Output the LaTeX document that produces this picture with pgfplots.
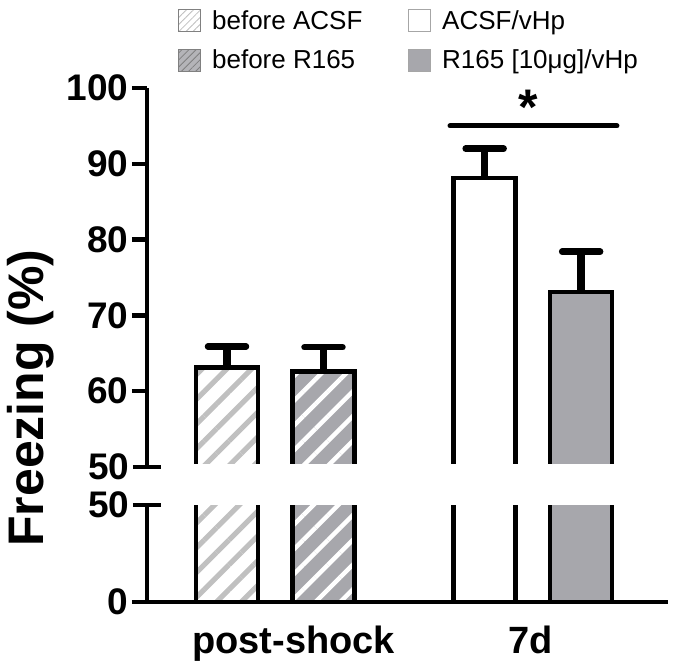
\documentclass[border=0pt]{standalone}
\usepackage{fontspec}
\setmainfont{Liberation Sans}
\usepackage{pgfplots}
\pgfplotsset{compat=1.18}
\usetikzlibrary{patterns.meta}

\definecolor{bargray}{RGB}{167,167,172}
\definecolor{hatchgray}{RGB}{192,192,192}

\pgfplotsset{
  brk/.style={
    width=521pt, scale only axis,
    xmin=0.171, xmax=5.570,
    axis line style={line width=4.5pt},
    tick style={black, line width=4.5pt},
    major tick length=15pt, tick align=outside,
    /pgf/number format/assume math mode=true,
    yticklabel style={font=\fontsize{37}{40}\selectfont\bfseries},
    extra y tick style={tick align=center, major tick length=28pt},
  },
  bar/.style={ybar, bar width=0.643, bar shift=0pt, draw=black, line width=4.5pt, forget plot},
  errs/.style={error bars/.cd, y dir=plus, y explicit,
    error bar style={line width=7.5pt, black},
    error mark options={rotate=90, line width=6.5pt, mark size=19pt, black, line cap=round}},
  hatchA/.style={fill=white, postaction={pattern={Lines[angle=45,distance=17.5pt,line width=5pt]}, pattern color=hatchgray}},
  hatchB/.style={fill=bargray, postaction={pattern={Lines[angle=45,distance=17.5pt,line width=4.5pt]}, pattern color=white}},
}

\begin{document}
\begin{tikzpicture}
\useasboundingbox (-147pt,-203pt) rectangle (528pt,467pt);

% upper part 50-100
\begin{axis}[brk, name=top, at={(0,0)}, anchor=south west, height=379pt,
  ymin=50, ymax=100, ytick={60,70,80,90,100}, extra y ticks={50},
  axis x line=none, axis y line*=left,
  legend columns=2, transpose legend, legend cell align=left,
  legend image code/.code={\draw[#1] (0pt,-11pt) rectangle (22pt,11pt); \path (31pt,0pt);},
  legend style={draw=none, fill=none, at={(axis description cs:0.054,1.215)}, anchor=north west,
    font=\fontsize{26}{30}\selectfont, row sep=15pt,
    /tikz/every even column/.append style={column sep=44pt}},
]
\addplot[bar, hatchA, errs] coordinates {(1,63.1) +- (0,2.8)};
\addplot[bar, hatchB, errs] coordinates {(2,62.6) +- (0,3.2)};
\addplot[bar, fill=white, errs] coordinates {(3.67,88.1) +- (0,3.9)};
\addplot[bar, fill=bargray, errs] coordinates {(4.67,73.1) +- (0,5.3)};

% hide the bottom edge of the cut bars
\fill[white] (axis cs:0.5,49) rectangle (axis cs:5.3,50.35);

\draw[line width=5pt, line cap=round] (axis cs:3.311,95) -- (axis cs:5.041,95);
\node[anchor=base, inner sep=0pt, font=\fontsize{50}{50}\selectfont\bfseries] at (axis cs:4.119,95.2) {*};

\addlegendimage{draw=gray, line width=0.8pt, fill=white, postaction={pattern={Lines[angle=45,distance=5pt,line width=0.8pt]}, pattern color=hatchgray}}
\addlegendentry{before ACSF}
\addlegendimage{draw=gray, line width=0.8pt, fill=bargray!85, postaction={pattern={Lines[angle=45,distance=5pt,line width=0.8pt]}, pattern color=gray}}
\addlegendentry{before R165}
\addlegendimage{draw=gray!70, line width=0.8pt, fill=white}
\addlegendentry{ACSF/vHp}
\addlegendimage{draw=gray!70, line width=0.8pt, fill=bargray}
\addlegendentry{R165 [10μg]/vHp}
\end{axis}

% lower part 0-50
\begin{axis}[brk, name=bot, at={(0,-38pt)}, anchor=north west, height=97pt,
  ymin=0, ymax=50, ytick={0}, extra y ticks={50},
  axis x line*=bottom, axis y line*=left,
  xtick=\empty, extra x ticks={1.69,4.15}, extra x tick labels={post-shock,7d},
  extra x tick style={major tick length=0pt},
  xticklabel style={font=\fontsize{38}{42}\selectfont\bfseries, yshift=-20pt},
]
\addplot[bar, hatchA] coordinates {(1,63.1)};
\addplot[bar, hatchB] coordinates {(2,62.6)};
\addplot[bar, fill=white] coordinates {(3.67,88.1)};
\addplot[bar, fill=bargray] coordinates {(4.67,73.1)};
\end{axis}

\node[rotate=90, font=\fontsize{50}{54}\selectfont\bfseries] at (-116pt,69pt) {Freezing (\%)};
\end{tikzpicture}
\end{document}
